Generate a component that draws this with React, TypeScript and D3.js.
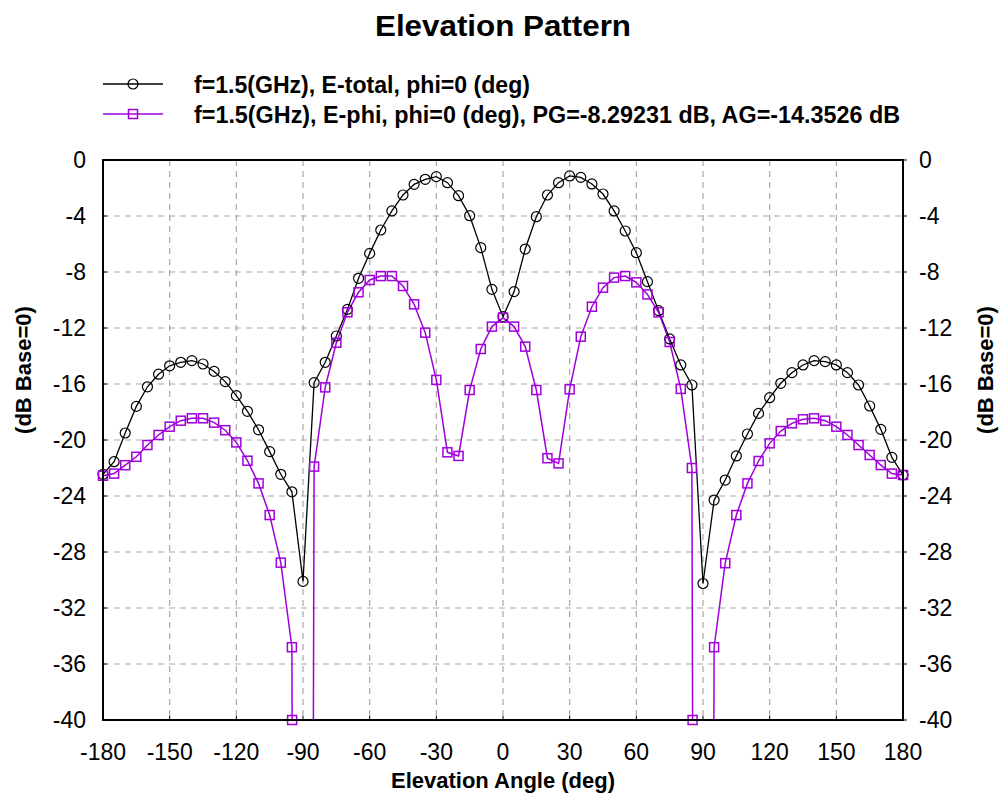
import React from 'react';
import * as d3 from 'd3';

const angles = [-180,-175,-170,-165,-160,-155,-150,-145,-140,-135,-130,-125,-120,-115,-110,-105,-100,-95,-90,-85,-80,-75,-70,-65,-60,-55,-50,-45,-40,-35,-30,-25,-20,-15,-10,-5,0,5,10,15,20,25,30,35,40,45,50,55,60,65,70,75,80,85,90,95,100,105,110,115,120,125,130,135,140,145,150,155,160,165,170,175,180];

const eTotal = [-22.45,-21.55,-19.5,-17.6,-16.2,-15.3,-14.7,-14.45,-14.33,-14.57,-15.1,-15.83,-16.83,-17.95,-19.27,-20.83,-22.45,-23.7,
  -30.1,
  -15.9,-14.45,-12.57,-10.67,-8.45,-6.67,-5.0,-3.64,-2.5,-1.74,-1.38,-1.19,-1.62,-2.55,-3.98,-6.26,-9.24,
  -11.19,
  -9.4,-6.36,-4.05,-2.5,-1.62,-1.14,-1.24,-1.71,-2.43,-3.64,-5.07,-6.62,-8.69,-10.76,-12.78,-14.64,-16.07,
  -30.25,
  -24.29,-22.86,-21.14,-19.57,-18.1,-16.98,-15.95,-15.19,-14.64,-14.33,-14.4,-14.64,-15.19,-16.07,-17.57,-19.24,-21.24,-22.5];

const ePhi = [-22.55,-22.4,-21.8,-21.2,-20.36,-19.64,-19.05,-18.62,-18.45,-18.45,-18.76,-19.3,-20.17,-21.48,-23.1,-25.36,-28.76,-34.8,
  -300,
  -21.9,-16.24,-13.05,-10.88,-9.45,-8.57,-8.29,-8.29,-9.0,-10.31,-12.33,-15.71,-20.88,-21.14,-16.43,-13.5,-11.9,
  -11.26,
  -11.9,-13.33,-16.43,-21.3,-21.67,-16.38,-12.62,-10.48,-9.12,-8.4,-8.29,-8.74,-9.6,-10.88,-13.0,-16.35,-22.0,
  -300,
  -34.8,-28.8,-25.36,-23.1,-21.5,-20.24,-19.36,-18.81,-18.52,-18.45,-18.62,-19.05,-19.64,-20.36,-21.07,-21.79,-22.4,-22.5];

const xTicks = [-180,-150,-120,-90,-60,-30,0,30,60,90,120,150,180];
const yTicks = [0,-4,-8,-12,-16,-20,-24,-28,-32,-36,-40];

const chartTitle = 'Elevation Pattern';
const xTitle = 'Elevation Angle (deg)';
const yTitle = '(dB Base=0)';
const seriesLabels = [
  'f=1.5(GHz), E-total, phi=0 (deg)',
  'f=1.5(GHz), E-phi, phi=0 (deg), PG=-8.29231 dB, AG=-14.3526 dB',
];

const BLACK = '#000000';
const PURPLE = '#a000dc';
const FONT = '"Liberation Sans", Arial, Helvetica, sans-serif';

export default function App() {
  const W = 1001, H = 798;
  const x = d3.scaleLinear().domain([-180, 180]).range([103, 903]);
  const y = d3.scaleLinear().domain([-40, 0]).range([720, 160]);
  const [y0, y1] = y.domain();

  const line = d3.line<[number, number]>().x(d => x(d[0])).y(d => y(d[1]));

  const series = [
    { values: eTotal, color: BLACK, marker: 'circle', width: 1.3 },
    { values: ePhi, color: PURPLE, marker: 'square', width: 1.5 },
  ];

  const markerPoints = (vals: number[]) => {
    const pts: [number, number][] = [];
    vals.forEach((v, i) => {
      if (v >= y0 && v <= y1) pts.push([angles[i], v]);
      if (i < vals.length - 1) {
        const n = vals[i + 1];
        if (v >= y0 && n < y0) {
          const t = (v - y0) / (v - n);
          pts.push([angles[i] + t * (angles[i + 1] - angles[i]), y0]);
        }
      }
    });
    return pts;
  };

  const drawMarker = (kind: string, cx: number, cy: number, color: string, key: string) =>
    kind === 'circle'
      ? <circle key={key} cx={cx} cy={cy} r={5} fill="none" stroke={color} strokeWidth={1.2} />
      : <rect key={key} x={cx - 4.5} y={cy - 4.5} width={9} height={9} fill="none" stroke={color} strokeWidth={1.5} />;

  const [xl, xr] = x.range();
  const [yb, yt] = y.range();

  return (
    <svg width={W} height={H} style={{ position: 'absolute', left: 0, top: 0, background: '#fff' }} fontFamily={FONT}>
      <rect x={0} y={0} width={W} height={H} fill="#fff" />
      <defs>
        <clipPath id="plotclip">
          <rect x={xl} y={yt} width={xr - xl} height={yb - yt} />
        </clipPath>
      </defs>

      <text x={503} y={36} textAnchor="middle" fontSize={29} fontWeight="bold" textLength={256} lengthAdjust="spacingAndGlyphs">{chartTitle}</text>

      {series.map((s, i) => {
        const ly = 84 + i * 30;
        return (
          <g key={'leg' + i}>
            <line x1={103} x2={163} y1={ly} y2={ly} stroke={s.color} strokeWidth={s.width} />
            {drawMarker(s.marker, 133, ly, s.color, 'lm' + i)}
            <text x={194} y={ly + 8.5} fontSize={23} fontWeight="bold" textLength={i === 0 ? 336 : 706} lengthAdjust="spacingAndGlyphs">{seriesLabels[i]}</text>
          </g>
        );
      })}

      {xTicks.slice(1, -1).map(t => (
        <line key={'gx' + t} x1={x(t)} x2={x(t)} y1={yt} y2={yb} stroke="#a8a8a8" strokeWidth={1.2} strokeDasharray="6,5" />
      ))}
      {yTicks.slice(1, -1).map(t => (
        <line key={'gy' + t} x1={xl} x2={xr} y1={y(t)} y2={y(t)} stroke="#a8a8a8" strokeWidth={1.2} strokeDasharray="6,5" />
      ))}

      <g clipPath="url(#plotclip)">
        {series.map((s, i) => (
          <path key={'ln' + i} d={line(angles.map((a, j) => [a, s.values[j]] as [number, number])) || ''} fill="none" stroke={s.color} strokeWidth={s.width} />
        ))}
      </g>
      {series.map((s, i) => (
        <g key={'mk' + i}>
          {markerPoints(s.values).map((p, j) => drawMarker(s.marker, x(p[0]), y(p[1]), s.color, 'm' + i + '_' + j))}
        </g>
      ))}

      <rect x={xl} y={yt} width={xr - xl} height={yb - yt} fill="none" stroke="#000" strokeWidth={2} />
      {xTicks.map(t => (
        <line key={'tx' + t} x1={x(t)} x2={x(t)} y1={yb} y2={yb - 4} stroke="#000" strokeWidth={1} />
      ))}
      {yTicks.map(t => (
        <g key={'ty' + t}>
          <line x1={xl} x2={xl + 4} y1={y(t)} y2={y(t)} stroke="#000" strokeWidth={1} />
          <line x1={xr} x2={xr + 4} y1={y(t)} y2={y(t)} stroke="#000" strokeWidth={1} />
        </g>
      ))}

      {xTicks.map(t => (
        <text key={'lx' + t} x={x(t)} y={760} textAnchor="middle" fontSize={23}>{t}</text>
      ))}
      {yTicks.map(t => (
        <g key={'ly' + t}>
          <text x={86} y={y(t) + 8.3} textAnchor="end" fontSize={23}>{t}</text>
          <text x={919} y={y(t) + 8.3} textAnchor="start" fontSize={23}>{t}</text>
        </g>
      ))}

      <text x={503} y={788} textAnchor="middle" fontSize={22} fontWeight="bold">{xTitle}</text>
      <text transform="translate(31,370) rotate(-90)" textAnchor="middle" fontSize={22} fontWeight="bold">{yTitle}</text>
      <text transform="translate(993,370) rotate(-90)" textAnchor="middle" fontSize={22} fontWeight="bold">{yTitle}</text>
    </svg>
  );
}
